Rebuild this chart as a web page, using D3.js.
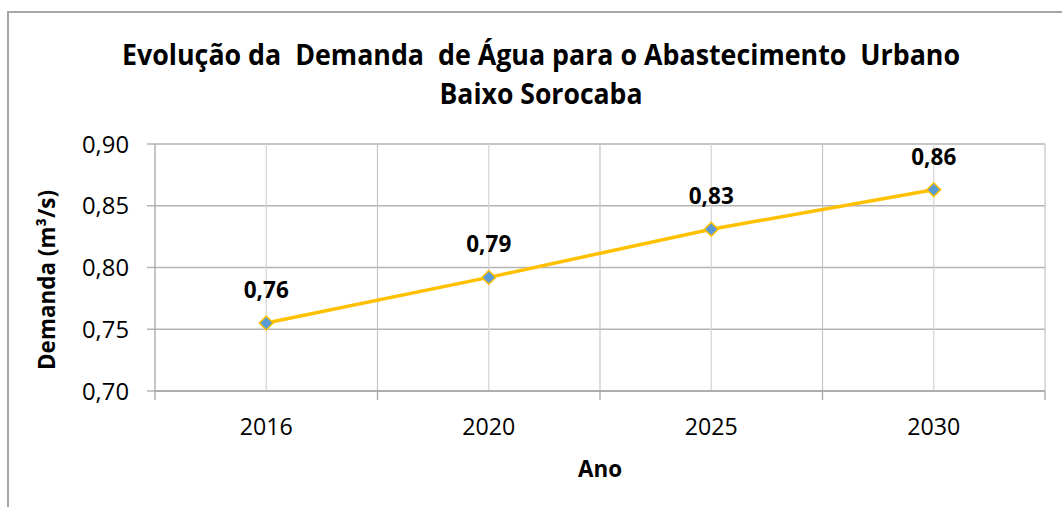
<!DOCTYPE html>
<html>
<head>
<meta charset="utf-8">
<script src="https://cdn.jsdelivr.net/npm/d3@7"></script>
<style>
  body { margin: 0; background: #fff; }
  text { font-family: "Open Sans", "Noto Sans", sans-serif; fill: #000; }
</style>
</head>
<body>
<script>
// dados
var anos = ["2016", "2020", "2025", "2030"]
var demanda = [0.755, 0.792, 0.831, 0.863]
var rotulos = ["0,76", "0,79", "0,83", "0,86"]
var yTicks = [0.70, 0.75, 0.80, 0.85, 0.90]

var W = 1062, H = 507
var svg = d3.select("body").append("svg")
  .attr("width", W)
  .attr("height", H)

// moldura do grafico (continua fora da imagem)
svg.append("rect")
  .attr("x", 8).attr("y", 12)
  .attr("width", 1200).attr("height", 700)
  .attr("fill", "none")
  .attr("stroke", "#a6a6a6")
  .attr("stroke-width", 2)

var x = d3.scaleBand()
  .domain(anos)
  .range([155, 1045])
  .padding(0)
var y = d3.scaleLinear()
  .domain([0.70, 0.90])
  .range([391, 144])

var fmt = d3.format(".2f")

// grade horizontal
svg.append("g").selectAll("line")
  .data(yTicks).enter().append("line")
  .attr("x1", 147).attr("x2", 1045)
  .attr("y1", d => y(d)).attr("y2", d => y(d))
  .attr("stroke", "#b3b3b3").attr("stroke-width", 1.3)

// grade vertical: limites das categorias
var limites = anos.map(a => x(a)).concat([x.range()[1]])
svg.append("g").selectAll("line")
  .data(limites.slice(1)).enter().append("line")
  .attr("x1", d => d).attr("x2", d => d)
  .attr("y1", 144).attr("y2", 391)
  .attr("stroke", "#c4c4c4").attr("stroke-width", 1.2)
// grade vertical: centro das categorias
svg.append("g").selectAll("line")
  .data(anos).enter().append("line")
  .attr("x1", d => x(d) + x.bandwidth() / 2).attr("x2", d => x(d) + x.bandwidth() / 2)
  .attr("y1", 144).attr("y2", 391)
  .attr("stroke", "#d4d4d4").attr("stroke-width", 1.2)

// eixo y
svg.append("line")
  .attr("x1", 155).attr("x2", 155).attr("y1", 144).attr("y2", 391)
  .attr("stroke", "#a6a6a6").attr("stroke-width", 1.3)
svg.append("g").selectAll("text")
  .data(yTicks).enter().append("text")
  .attr("x", 129)
  .attr("y", d => y(d))
  .attr("dy", "0.37em")
  .attr("text-anchor", "end")
  .attr("textLength", 47)
  .attr("lengthAdjust", "spacingAndGlyphs")
  .style("font-size", "23.5px")
  .text(d => fmt(d).replace(".", ","))

// eixo x
svg.append("line")
  .attr("x1", 155).attr("x2", 1045).attr("y1", 391).attr("y2", 391)
  .attr("stroke", "#a6a6a6").attr("stroke-width", 1.5)
svg.append("g").selectAll("line")
  .data(limites).enter().append("line")
  .attr("x1", d => d).attr("x2", d => d)
  .attr("y1", 391).attr("y2", 400)
  .attr("stroke", "#a6a6a6").attr("stroke-width", 1.3)
svg.append("g").selectAll("text")
  .data(anos).enter().append("text")
  .attr("x", d => x(d) + x.bandwidth() / 2)
  .attr("y", 435)
  .attr("text-anchor", "middle")
  .attr("textLength", 53)
  .attr("lengthAdjust", "spacingAndGlyphs")
  .style("font-size", "23.5px")
  .text(d => d)

// titulos dos eixos
svg.append("text")
  .attr("x", 600).attr("y", 477)
  .attr("text-anchor", "middle")
  .attr("textLength", 44)
  .attr("lengthAdjust", "spacingAndGlyphs")
  .style("font-size", "23px").style("font-weight", "bold")
  .text("Ano")
svg.append("text")
  .attr("transform", "translate(55,280) rotate(-90)")
  .attr("text-anchor", "middle")
  .attr("textLength", 180)
  .attr("lengthAdjust", "spacingAndGlyphs")
  .style("font-size", "23px").style("font-weight", "bold")
  .text("Demanda (m³/s)")

// titulo
svg.append("text")
  .attr("x", 541).attr("y", 65)
  .attr("text-anchor", "middle")
  .attr("textLength", 838)
  .attr("lengthAdjust", "spacingAndGlyphs")
  .style("white-space", "pre")
  .style("font-size", "29px").style("font-weight", "bold")
  .text("Evolução da  Demanda  de Água para o Abastecimento  Urbano")
svg.append("text")
  .attr("x", 541).attr("y", 104)
  .attr("text-anchor", "middle")
  .attr("textLength", 203)
  .attr("lengthAdjust", "spacingAndGlyphs")
  .style("font-size", "29px").style("font-weight", "bold")
  .text("Baixo Sorocaba")

// serie
var pts = anos.map((a, i) => ({ano: a, v: demanda[i], r: rotulos[i]}))
var linha = d3.line()
  .x(d => x(d.ano) + x.bandwidth() / 2)
  .y(d => y(d.v))
svg.append("path")
  .datum(pts)
  .attr("d", linha)
  .attr("fill", "none")
  .attr("stroke", "#ffc000")
  .attr("stroke-width", 3.5)

svg.append("g").selectAll("path")
  .data(pts).enter().append("path")
  .attr("d", d3.symbol().type(d3.symbolSquare).size(95))
  .attr("transform", d => "translate(" + (x(d.ano) + x.bandwidth() / 2) + "," + y(d.v) + ") rotate(45)")
  .attr("fill", "#5b9bd5")
  .attr("stroke", "#ffc000")
  .attr("stroke-width", 1.5)

svg.append("g").selectAll("text")
  .data(pts).enter().append("text")
  .attr("x", d => x(d.ano) + x.bandwidth() / 2)
  .attr("y", d => y(d.v) - 25)
  .attr("text-anchor", "middle")
  .attr("textLength", 45)
  .attr("lengthAdjust", "spacingAndGlyphs")
  .style("font-size", "23px").style("font-weight", "bold")
  .text(d => d.r)
</script>
</body>
</html>
